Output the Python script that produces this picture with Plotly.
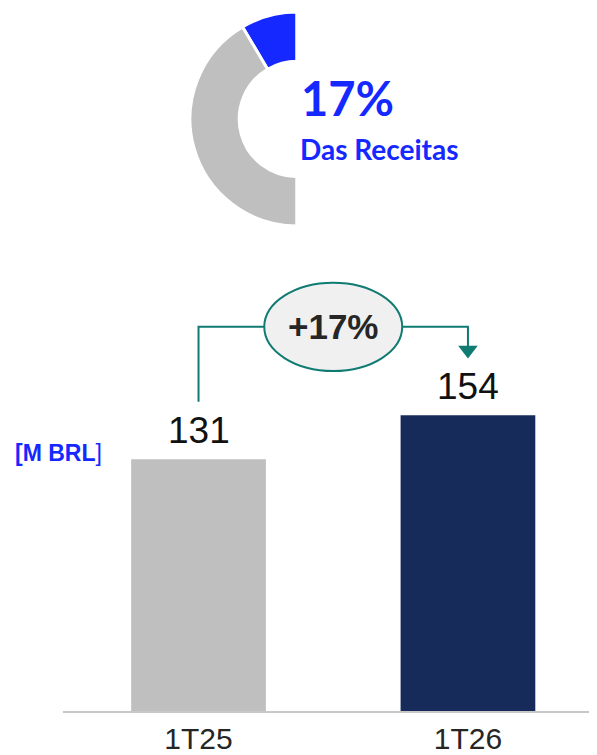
import plotly.graph_objects as go

# donut: share of revenues
share_labels = ["Segmento", "Outros"]
share_values = [17, 83]
share_text = "17%"
share_caption = "Das Receitas"

# bars
quarters = ["1T25", "1T26"]
revenue = [131, 154]
growth_label = "+17%"
unit_label = "[M BRL]"

BLUE = "#1428FF"
GRAY = "#BFBFBF"
NAVY = "#172B5A"
TEAL = "#0F7B72"

# the page body has an 8px margin, so the figure is 8px smaller than the window
W, H, OFF = 589, 747, 8


def px(x):
    return (x - OFF) / W


def py(y):
    return 1 - (y - OFF) / H


fig = go.Figure()

# half donut: the hidden slice fills the right half
total = sum(share_values)
fig.add_trace(go.Pie(
    labels=share_labels + ["_"],
    values=share_values + [total],
    hole=0.54,
    sort=False,
    direction="counterclockwise",
    rotation=-share_values[0] / (2 * total) * 360,
    marker=dict(colors=[BLUE, GRAY, "rgba(0,0,0,0)"], line=dict(color="white", width=3)),
    textinfo="none",
    hoverinfo="skip",
    showlegend=False,
    domain=dict(x=[px(297 - 107), px(297 + 107)], y=[py(226), py(12)]),
))

fig.add_trace(go.Bar(
    x=quarters,
    y=revenue,
    marker=dict(color=[GRAY, NAVY]),
    width=0.5,
    showlegend=False,
    hoverinfo="skip",
))

# connector: from above 1T25 up, across, down to 1T26
top = max(revenue) + 46
fig.add_trace(go.Scatter(
    x=[quarters[0], quarters[0], quarters[1], quarters[1]],
    y=[revenue[0] + 30, top, top, revenue[1] + 36],
    mode="lines",
    line=dict(color=TEAL, width=2),
    showlegend=False,
    hoverinfo="skip",
))
fig.add_trace(go.Scatter(
    x=[quarters[1]],
    y=[revenue[1] + 34],
    mode="markers",
    marker=dict(symbol="triangle-down", size=17, color=TEAL),
    showlegend=False,
    hoverinfo="skip",
))

fig.add_shape(type="circle", xref="x", yref="y",
              x0=0.5 - 0.256, x1=0.5 + 0.256, y0=top - 23, y1=top + 23,
              fillcolor="#F0F0F0", line=dict(color=TEAL, width=2), layer="above")

annotations = [
    dict(x=0.5, y=top, xref="x", yref="y", text="<b>" + growth_label + "</b>",
         showarrow=False, font=dict(family="Liberation Sans", size=35, color="#262626")),
    dict(x=px(299), y=py(98), xref="paper", yref="paper", xanchor="left", yanchor="middle",
         text="<b>" + share_text + "</b>", showarrow=False,
         font=dict(family="Lato", size=47, color=BLUE)),
    dict(x=px(298), y=py(149), xref="paper", yref="paper", xanchor="left", yanchor="middle",
         text="<b>" + share_caption + "</b>", showarrow=False,
         font=dict(family="Lato", size=28, color=BLUE)),
    dict(x=px(13), y=py(453), xref="paper", yref="paper", xanchor="left", yanchor="middle",
         text="<b>" + unit_label[:-1] + "</b>" + unit_label[-1], showarrow=False,
         font=dict(family="Liberation Sans", size=23, color=BLUE)),
]
for q, v in zip(quarters, revenue):
    annotations.append(dict(x=q, y=v, xref="x", yref="y", yanchor="bottom", yshift=6,
                            text=str(v), showarrow=False,
                            font=dict(family="Liberation Sans", size=37, color="#111111")))

fig.update_layout(
    width=W, height=H,
    margin=dict(l=0, r=0, t=0, b=0),
    paper_bgcolor="white", plot_bgcolor="white",
    template="none",
    annotations=annotations,
    xaxis=dict(domain=[px(63), 1], range=[-0.503, 1.479], showgrid=False, zeroline=False,
               showline=True, linecolor="#C8C8C8", linewidth=2, ticks="",
               tickfont=dict(family="Liberation Sans", size=30, color="#262626"),
               automargin=False),
    yaxis=dict(domain=[py(711), py(250)], range=[0, 240], visible=False,
               automargin=False),
)

fig.write_html("out.html")
